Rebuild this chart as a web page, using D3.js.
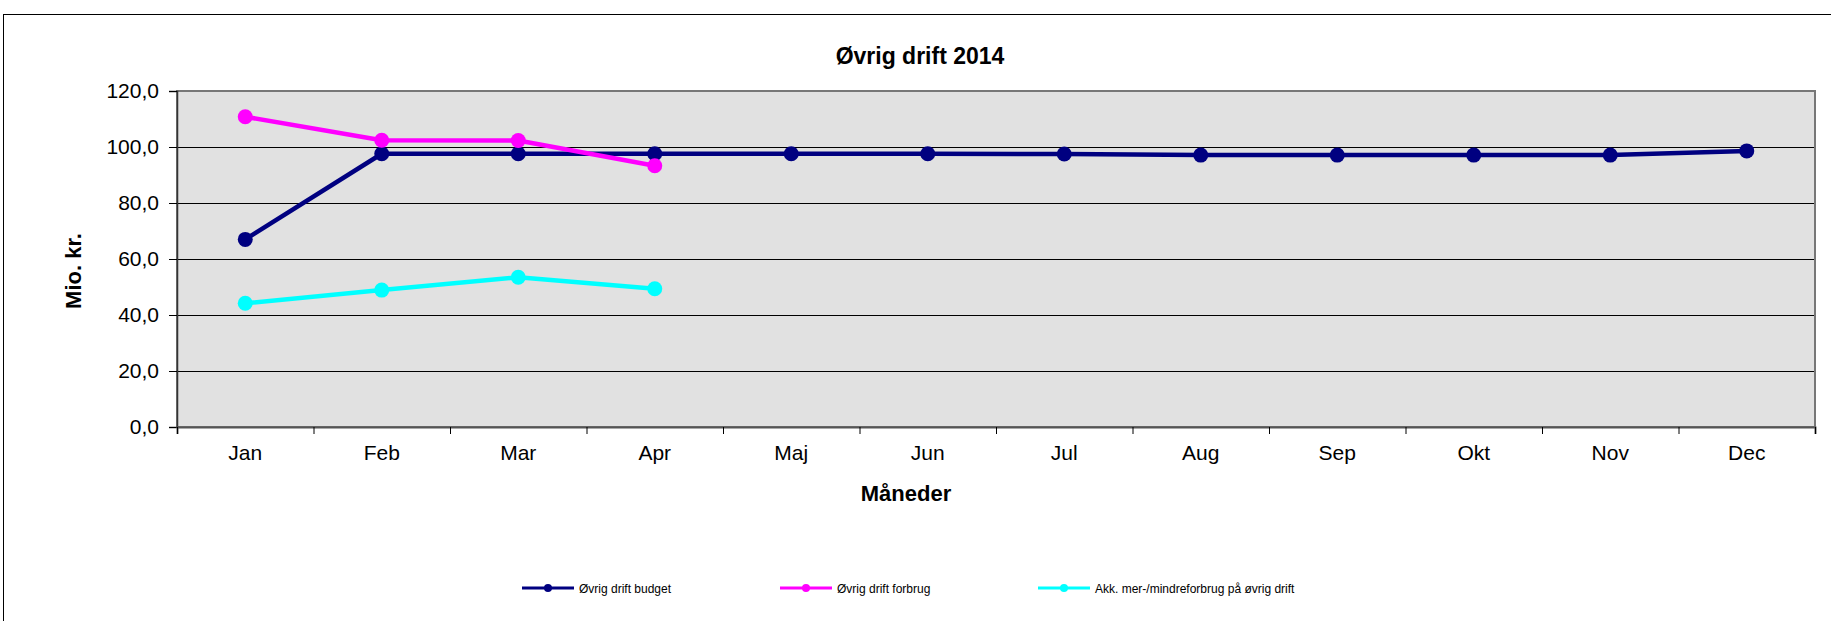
<!DOCTYPE html>
<html>
<head>
<meta charset="utf-8">
<script src="https://cdn.jsdelivr.net/npm/d3@7"></script>
<style>
  body { margin: 0; background: #fff; }
  svg { display: block; font-family: "Liberation Sans", Arial, sans-serif; }
</style>
</head>
<body>
<svg width="1831" height="621"></svg>
<script>
// data
let months = ['Jan', 'Feb', 'Mar', 'Apr', 'Maj', 'Jun', 'Jul', 'Aug', 'Sep', 'Okt', 'Nov', 'Dec'];
let budget = [67.0, 97.6, 97.6, 97.6, 97.6, 97.6, 97.5, 97.1, 97.1, 97.1, 97.1, 98.6];
let forbrug = [110.8, 102.4, 102.3, 93.3];
let akk = [44.2, 48.9, 53.5, 49.4];
let yTicks = [0, 20, 40, 60, 80, 100, 120];

let seriesNames = ['Øvrig drift budget', 'Øvrig drift forbrug', 'Akk. mer-/mindreforbrug på øvrig drift'];
let seriesColors = ['#000080', '#ff00ff', '#00ffff'];
let seriesData = [budget, forbrug, akk];

let svg = d3.select('svg');

let plot = {left: 177, right: 1815, top: 91, bottom: 427};

/* outer chart frame (cut off at right and bottom) */
svg.append('rect')
  .attr('x', 3.5).attr('y', 14.5)
  .attr('width', 1900).attr('height', 700)
  .attr('fill', 'none').attr('stroke', '#000').attr('stroke-width', 1);

let x = d3.scaleBand().domain(months).range([plot.left, plot.right]).padding(0);
let xEdge = d3.scaleLinear().domain([0, months.length]).range([plot.left, plot.right]);
let y = d3.scaleLinear().domain([0, 120]).range([plot.bottom, plot.top]);

/* plot background */
svg.append('rect')
  .attr('x', plot.left).attr('y', plot.top)
  .attr('width', plot.right - plot.left).attr('height', plot.bottom - plot.top)
  .attr('fill', '#e1e1e1');

/* gridlines */
let grid = svg.append('g')
  .attr('transform', `translate(${plot.left},0)`)
  .call(d3.axisLeft(y).tickValues(yTicks.slice(1, -1)).tickSize(-(plot.right - plot.left)).tickFormat(''));
grid.select('.domain').remove();
grid.selectAll('line').attr('stroke', '#000').attr('stroke-width', 1.2);

/* plot border */
svg.append('rect')
  .attr('x', plot.left).attr('y', plot.top)
  .attr('width', plot.right - plot.left).attr('height', plot.bottom - plot.top)
  .attr('fill', 'none').attr('stroke', '#777').attr('stroke-width', 2);

/* y axis */
let fmt = d => d3.format('.1f')(d).replace('.', ',');
let yAxis = svg.append('g')
  .attr('transform', `translate(${plot.left},0)`)
  .call(d3.axisLeft(y).tickValues(yTicks).tickSize(8).tickPadding(10).tickFormat(fmt));
yAxis.select('.domain').attr('stroke', '#333').attr('stroke-width', 1.5);
yAxis.selectAll('line').attr('stroke', '#000');
yAxis.selectAll('text').attr('font-size', 21).attr('fill', '#000').attr('font-family', null);

/* x axis: labels at band centres, ticks at band edges */
let xAxis = svg.append('g')
  .attr('transform', `translate(0,${plot.bottom})`)
  .call(d3.axisBottom(x).tickSize(0).tickPadding(18));
xAxis.select('.domain').remove();
xAxis.selectAll('text').attr('font-size', 21).attr('fill', '#000').attr('font-family', null);

let xTicks = svg.append('g')
  .attr('transform', `translate(0,${plot.bottom})`)
  .call(d3.axisBottom(xEdge).ticks(12).tickSize(7).tickFormat(''));
xTicks.select('.domain').attr('stroke', '#555').attr('stroke-width', 2);
xTicks.selectAll('line').attr('stroke', '#000');

/* series */
let line = d3.line()
  .x((d, i) => x(months[i]) + x.bandwidth() / 2)
  .y(d => y(d));

seriesData.forEach(function(values, k) {
  let g = svg.append('g');
  g.append('path')
    .datum(values)
    .attr('d', line)
    .attr('fill', 'none')
    .attr('stroke', seriesColors[k])
    .attr('stroke-width', 4.5)
    .attr('stroke-linejoin', 'round');
  g.selectAll('circle').data(values).enter().append('circle')
    .attr('cx', (d, i) => x(months[i]) + x.bandwidth() / 2)
    .attr('cy', d => y(d))
    .attr('r', 7.5)
    .attr('fill', seriesColors[k]);
});

/* titles */
svg.append('text')
  .attr('x', 920).attr('y', 64)
  .attr('text-anchor', 'middle')
  .attr('font-size', 23).attr('font-weight', 'bold')
  .text('Øvrig drift 2014');

svg.append('text')
  .attr('x', 906).attr('y', 501)
  .attr('text-anchor', 'middle')
  .attr('font-size', 22).attr('font-weight', 'bold')
  .text('Måneder');

svg.append('text')
  .attr('transform', 'translate(81,271) rotate(-90)')
  .attr('text-anchor', 'middle')
  .attr('font-size', 22).attr('font-weight', 'bold')
  .text('Mio. kr.');

/* legend */
let legendX = [522, 780, 1038];
let legend = svg.append('g').attr('transform', 'translate(0,588)');
seriesNames.forEach(function(name, k) {
  let g = legend.append('g').attr('transform', `translate(${legendX[k]},0)`);
  g.append('line').attr('x1', 0).attr('x2', 52).attr('y1', 0).attr('y2', 0)
    .attr('stroke', seriesColors[k]).attr('stroke-width', 3);
  g.append('circle').attr('cx', 26).attr('cy', 0).attr('r', 4).attr('fill', seriesColors[k]);
  g.append('text').attr('x', 57).attr('y', 4.5)
    .attr('font-size', 12).attr('fill', '#000')
    .text(name);
});
</script>
</body>
</html>
